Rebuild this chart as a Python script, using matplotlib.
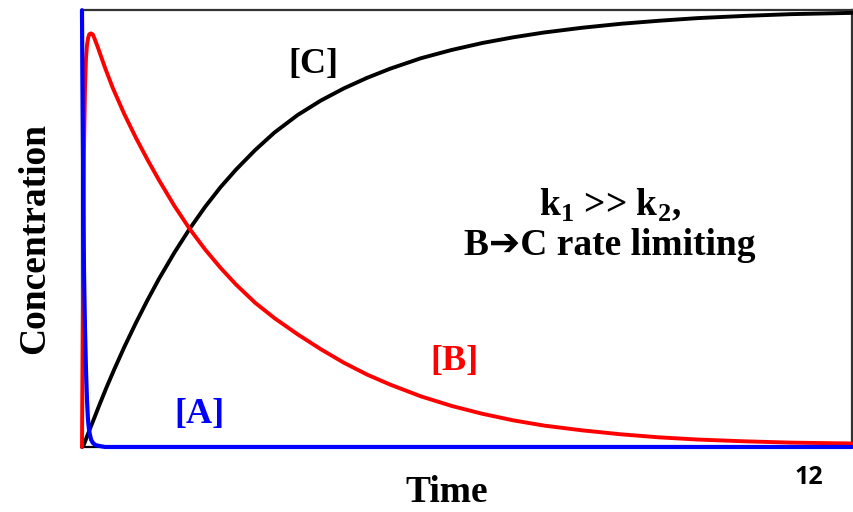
import matplotlib
matplotlib.use("Agg")
import matplotlib.pyplot as plt

# values (time 0..100, concentration 0..1)
t_a = [0, 0.05, 0.13, 0.2, 0.26, 0.33, 0.39, 0.52, 0.65, 0.78, 0.91, 1.04,
       1.2, 1.43, 1.8, 2.34, 3.0, 100]
conc_a = [1.0, 0.86, 0.68, 0.52, 0.405, 0.33, 0.27, 0.176, 0.108, 0.062,
          0.04, 0.027, 0.016, 0.009, 0.004, 0.002, 0.0, 0.0]

t_b = [0, 0.13, 0.26, 0.39, 0.52, 0.65, 0.8, 0.95, 1.17, 1.43, 2.0, 3.0, 4.0,
       5.5, 7.0, 8.5, 10, 12, 14, 16, 18, 20, 22.5, 25, 28, 31, 34, 37, 40,
       44, 48, 52, 56, 60, 65, 70, 75, 80, 86, 92, 100]
conc_b = [0.0, 0.336, 0.68, 0.82, 0.89, 0.92, 0.937, 0.945, 0.947, 0.944,
          0.918, 0.868, 0.822, 0.762, 0.708, 0.658, 0.611, 0.552, 0.499,
          0.452, 0.41, 0.372, 0.33, 0.295, 0.258, 0.224, 0.193, 0.166,
          0.143, 0.116, 0.094, 0.076, 0.061, 0.049, 0.038, 0.029, 0.022,
          0.017, 0.013, 0.01, 0.008]

t_c = [0, 0.26, 0.52, 1.0, 1.5, 2.3, 3.2, 4.2, 5.5, 7.0, 8.5, 10, 12, 14, 16,
       18, 20, 22.5, 25, 28, 31, 34, 37, 40, 44, 48, 52, 56, 60, 65, 70, 75,
       80, 86, 92, 100]
conc_c = [0.0, 0.006, 0.018, 0.04, 0.062, 0.098, 0.137, 0.178, 0.229, 0.284,
          0.336, 0.385, 0.445, 0.5, 0.55, 0.595, 0.635, 0.68, 0.72, 0.76,
          0.793, 0.821, 0.845, 0.866, 0.89, 0.909, 0.925, 0.938, 0.949,
          0.96, 0.969, 0.976, 0.982, 0.987, 0.991, 0.994]

serif = ["Liberation Serif", "DejaVu Serif"]
plt.rcParams["mathtext.fontset"] = "custom"
plt.rcParams["mathtext.rm"] = "Liberation Serif"
plt.rcParams["mathtext.bf"] = "Liberation Serif:bold"

fig = plt.figure(figsize=(8.54, 5.12), dpi=100)
ax = fig.add_axes([0.096, 0.127, 0.9016, 0.853])

ax.plot(t_c, conc_c, color="black", lw=2.8, solid_capstyle="round",
        clip_on=False, zorder=3)
ax.plot(t_b, conc_b, color="#ff0000", lw=2.8, solid_capstyle="round",
        clip_on=False, zorder=3)
ax.plot(t_a, conc_a, color="#0000ff", lw=3.0, solid_capstyle="round",
        clip_on=False, zorder=3)

ax.set_xlim(0, 100)
ax.set_ylim(0, 1)
ax.set_xticks([])
ax.set_yticks([])
for side in ["top", "right"]:
    ax.spines[side].set_color("#333333")
    ax.spines[side].set_linewidth(1.6)
ax.spines["left"].set_linewidth(1.6)
ax.spines["bottom"].set_linewidth(1.6)

# axis titles placed where the reference has them
fig.text(0.523, 0.038, "Time", family=serif, fontweight="bold", fontsize=27,
         ha="center", va="center")
fig.text(0.041, 0.535, "Concentration", family=serif, fontweight="bold",
         fontsize=27, rotation=90, ha="center", va="center")

ax.text(30.1, 0.875, "[C]", family=serif, fontweight="bold", fontsize=26,
        color="black", ha="center", va="center")
ax.text(48.4, 0.195, "[B]", family=serif, fontweight="bold", fontsize=26,
        color="#ff0000", ha="center", va="center")
ax.text(15.3, 0.075, "[A]", family=serif, fontweight="bold", fontsize=26,
        color="#0000ff", ha="center", va="center")

ax.text(68.6, 0.554, r"k$_\mathbf{1}$ >> k$_\mathbf{2}$,", family=serif,
        fontweight="bold", fontsize=27, ha="center", va="center")
ax.text(68.6, 0.462, "B\u2794C rate limiting", family=serif + ["DejaVu Sans"],
        fontweight="bold", fontsize=27, ha="center", va="center")

fig.text(0.947, 0.067, "12", family=["Open Sans", "DejaVu Sans"],
         fontweight="bold", fontsize=18, ha="center", va="center")

fig.savefig("out.png", dpi=100)
